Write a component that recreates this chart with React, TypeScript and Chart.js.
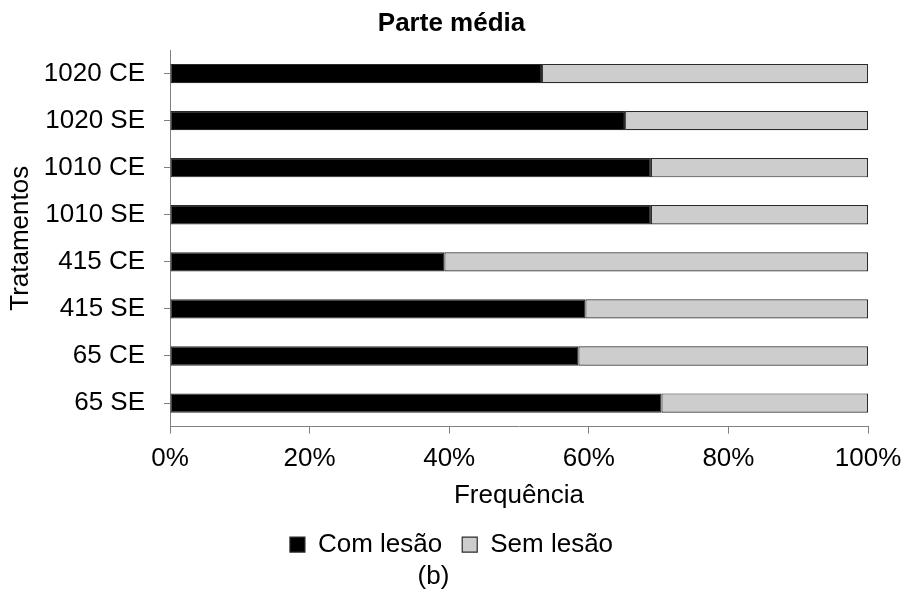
import React, { useEffect, useRef } from "react";
import { Chart, registerables } from "chart.js";

Chart.register(...registerables);

const treatments = ["1020 CE", "1020 SE", "1010 CE", "1010 SE", "415 CE", "415 SE", "65 CE", "65 SE"];
const comLesao = [53.3, 65.2, 68.9, 68.9, 39.3, 59.5, 58.5, 70.4];
const semLesao = [46.7, 34.8, 31.1, 31.1, 60.7, 40.5, 41.5, 29.6];
const xTicks = [0, 20, 40, 60, 80, 100];

const FONT = "'Liberation Sans', Arial, sans-serif";
const AXIS_GREY = "#808080";
const BAR_EDGE = "#2a2a2a";

export default function App() {
  const canvasRef = useRef<HTMLCanvasElement | null>(null);

  useEffect(() => {
    if (!canvasRef.current) return;
    Chart.defaults.font.family = FONT;
    Chart.defaults.color = "#000";

    const chart = new Chart(canvasRef.current, {
      type: "bar",
      data: {
        labels: treatments,
        datasets: [
          {
            label: "Com lesão",
            data: comLesao,
            backgroundColor: "#000000",
            borderColor: BAR_EDGE,
            borderWidth: 1.2,
            borderSkipped: false,
            categoryPercentage: 1,
            barPercentage: 0.41,
          },
          {
            label: "Sem lesão",
            data: semLesao,
            backgroundColor: "#cdcdcd",
            borderColor: BAR_EDGE,
            borderWidth: 1.2,
            borderSkipped: false,
            categoryPercentage: 1,
            barPercentage: 0.41,
          },
        ],
      },
      options: {
        indexAxis: "y",
        responsive: false,
        animation: false,
        events: [],
        layout: { padding: { left: 0, right: 4, top: 0, bottom: 0 } },
        scales: {
          x: {
            stacked: true,
            min: 0,
            max: 100,
            afterBuildTicks: (scale: any) => {
              scale.ticks = xTicks.map((v) => ({ value: v }));
            },
            afterFit: (scale: any) => {
              // room on the right for the "100%" label
              scale.paddingRight = 39;
            },
            ticks: {
              padding: 9.4,
              font: { size: 26 },
              color: "#000",
              callback: (v: any) => `${v}%`,
            },
            grid: {
              drawOnChartArea: false,
              drawTicks: true,
              tickLength: 7,
              color: AXIS_GREY,
            },
            border: { display: true, color: AXIS_GREY, width: 1 },
            title: {
              display: true,
              text: "Frequência",
              font: { size: 26 },
              color: "#000",
              padding: { top: -3.6, bottom: 0.4 },
            },
          },
          y: {
            stacked: true,
            afterFit: (scale: any) => {
              scale.width = 170;
            },
            ticks: {
              padding: 19,
              font: { size: 26 },
              color: "#000",
            },
            grid: {
              offset: false,
              drawOnChartArea: false,
              drawTicks: true,
              tickLength: 6,
              color: AXIS_GREY,
            },
            border: { display: true, color: AXIS_GREY, width: 1 },
            title: {
              display: true,
              text: "Tratamentos",
              font: { size: 26 },
              color: "#000",
              padding: { top: 5.4, bottom: 0 },
            },
          },
        },
        plugins: {
          title: {
            display: true,
            text: "Parte média",
            font: { size: 26, weight: "bold" },
            color: "#000",
            padding: { top: 8.4, bottom: 10.4 },
          },
          subtitle: {
            display: true,
            // trailing spaces nudge the caption left of the page centre
            text: "(b)     ",
            position: "bottom",
            font: { size: 26 },
            color: "#000",
            padding: { top: -6.6, bottom: 0.8 },
          },
          legend: {
            display: true,
            position: "bottom",
            labels: {
              boxWidth: 15,
              boxHeight: 15,
              padding: 20,
              font: { size: 26 },
              color: "#000",
            },
          },
          tooltip: { enabled: false },
        },
      },
    });

    return () => chart.destroy();
  }, []);

  return (
    <div style={{ position: "fixed", left: 0, top: 0, width: 907, height: 593, background: "#fff" }}>
      <canvas ref={canvasRef} width={907} height={593} style={{ display: "block", width: 907, height: 593 }} />
    </div>
  );
}
